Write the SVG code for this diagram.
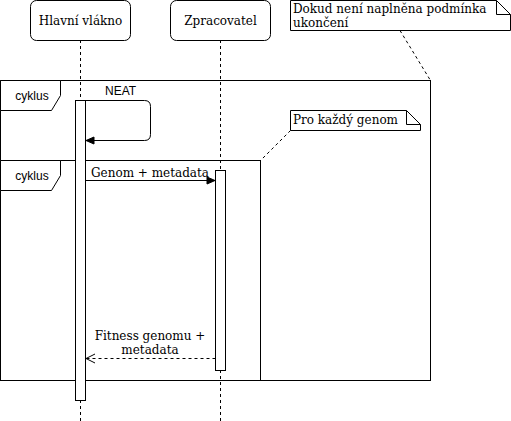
<svg xmlns="http://www.w3.org/2000/svg" width="511" height="421" viewBox="0 0 511 421">
<defs>
<style>
.s{fill:none;stroke:#000;stroke-width:1}
.w{fill:#fff;stroke:#000;stroke-width:1}
.d{fill:none;stroke:#000;stroke-width:1;stroke-dasharray:3 3}
.ser{font-family:"DejaVu Serif",serif;font-size:12px;fill:#000}
.san{font-family:"Liberation Sans",Arial,sans-serif;font-size:12px;fill:#000}
</style>
<marker id="blk" markerWidth="10" markerHeight="10" refX="9" refY="5" orient="auto" markerUnits="userSpaceOnUse">
<path d="M1,1.5 L9,5 L1,8.5 Z" fill="#000" stroke="#000"/>
</marker>
<marker id="opn" markerWidth="12" markerHeight="12" refX="10" refY="6" orient="auto" markerUnits="userSpaceOnUse">
<path d="M1,1.5 L10,6 L1,10.5" fill="none" stroke="#000"/>
</marker>
</defs>
<rect width="511" height="421" fill="#fff"/>

<g id="lifelines">
<line class="d" x1="80.5" y1="40" x2="80.5" y2="421"/>
<line class="d" x1="220.5" y1="40" x2="220.5" y2="421"/>
</g>

<g id="loop-outer">
<rect class="s" x="0.5" y="80.5" width="430" height="300"/>
<path class="w" d="M0.5,80.5 H60.5 V95.5 L51.5,110.5 H0.5 Z"/>
<text class="san" x="32" y="100" text-anchor="middle">cyklus</text>
</g>

<g id="loop-inner">
<rect class="s" x="0.5" y="160.5" width="260" height="220"/>
<path class="w" d="M0.5,160.5 H60.5 V175.5 L51.5,190.5 H0.5 Z"/>
<text class="san" x="32" y="180" text-anchor="middle">cyklus</text>
</g>

<g id="participant-hlavni">
<rect class="w" x="30.5" y="0.5" width="100" height="40" rx="6" ry="6"/>
<text class="ser" x="80.5" y="24.5" text-anchor="middle">Hlavní vlákno</text>
</g>

<g id="participant-zpracovatel">
<rect class="w" x="170.5" y="0.5" width="100" height="40" rx="6" ry="6"/>
<text class="ser" x="220.5" y="24.5" text-anchor="middle">Zpracovatel</text>
</g>

<g id="note-dokud">
<path class="w" d="M290.5,0.5 H496.5 L510.5,14.5 V30.5 H290.5 Z"/>
<path class="s" d="M496.5,0.5 V14.5 H510.5"/>
<text class="ser" x="293" y="13">Dokud není naplněna podmínka</text>
<text class="ser" x="293" y="27">ukončení</text>
</g>

<g id="note-pro">
<path class="w" d="M290.5,110.5 H406.5 L420.5,124.5 V130.5 H290.5 Z"/>
<path class="s" d="M406.5,110.5 V124.5 H420.5"/>
<text class="ser" x="293" y="124">Pro každý genom</text>
</g>

<g id="activation-hlavni">
<rect class="w" x="75.5" y="100.5" width="10" height="300"/>
</g>

<g id="activation-zpracovatel">
<rect class="w" x="215.5" y="170.5" width="10" height="200"/>
</g>

<g id="connectors">
<line class="d" x1="400" y1="30.5" x2="430.5" y2="80.5"/>
<line class="d" x1="290.5" y1="130.5" x2="260.5" y2="160.5"/>
<path class="s" d="M85.5,100.5 H144.5 Q150.5,100.5 150.5,106.5 V134.5 Q150.5,140.5 144.5,140.5 H86" marker-end="url(#blk)"/>
<text class="san" x="105" y="95">NEAT</text>
<line class="s" x1="85.5" y1="180.5" x2="215" y2="180.5" marker-end="url(#blk)"/>
<text class="ser" x="91" y="177">Genom + metadata</text>
<line class="d" x1="215.5" y1="358.5" x2="86" y2="358.5" marker-end="url(#opn)"/>
<text class="ser" x="150" y="340" text-anchor="middle">Fitness genomu +</text>
<text class="ser" x="150" y="354" text-anchor="middle">metadata</text>
</g>
</svg>
